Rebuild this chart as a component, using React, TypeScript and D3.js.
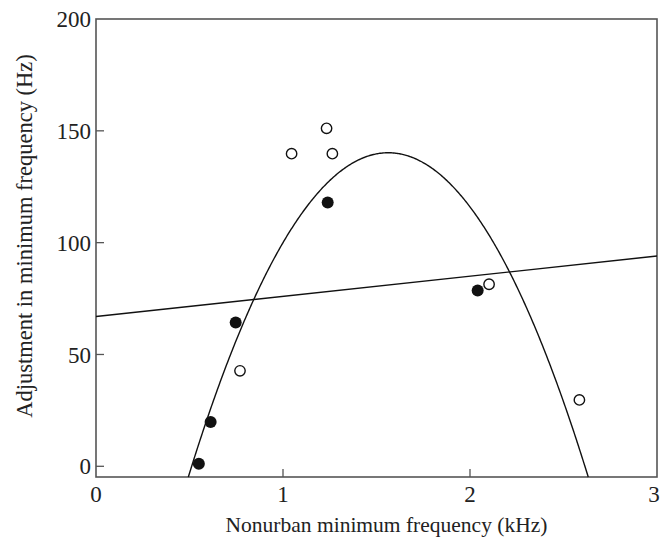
import React, { useEffect, useRef } from "react";
import * as d3 from "d3";

const filledX = [0.55, 0.613, 0.747, 1.239, 2.041];
const filledY = [1.1, 19.8, 64.3, 117.9, 78.6];
const openX = [0.77, 1.046, 1.233, 1.264, 2.102, 2.585];
const openY = [42.7, 139.8, 151.1, 139.8, 81.4, 29.7];

// fitted lines: linear y = a + b x, quadratic y = k - c (x - h)^2
const linearFit = [67.0, 9.0];
const quadFit = [1.563, 140.2, 126.8];

const xTicks = [0, 1, 2, 3];
const yTicks = [0, 50, 100, 150, 200];

const W = 661;
const H = 539;

const App = () => {
  const ref = useRef<SVGSVGElement>(null);

  useEffect(() => {
    const svg = d3.select(ref.current);
    svg.selectAll("*").remove();

    const left = 96,
      right = 657,
      top = 19,
      bottom = 477;

    const x = d3.scaleLinear().domain([0, 3]).range([left, right]);
    const y = d3.scaleLinear().domain([0, 200]).range([466.3, top]);
    const yMin = y.invert(bottom);

    const font = "'Liberation Serif', 'Times New Roman', serif";

    // frame
    svg
      .append("rect")
      .attr("x", left)
      .attr("y", top)
      .attr("width", right - left)
      .attr("height", bottom - top)
      .attr("fill", "none")
      .attr("stroke", "#555")
      .attr("stroke-width", 1.6);

    // x ticks (inward)
    svg
      .append("g")
      .selectAll("line")
      .data(xTicks.slice(1, -1))
      .join("line")
      .attr("x1", (d) => x(d))
      .attr("x2", (d) => x(d))
      .attr("y1", bottom)
      .attr("y2", bottom - 8)
      .attr("stroke", "#555")
      .attr("stroke-width", 1.3);

    // last label would run past the right edge, pull it in a touch
    svg
      .append("g")
      .selectAll("text")
      .data(xTicks)
      .join("text")
      .attr("x", (d) => x(d))
      .attr("y", bottom + 25)
      .attr("dx", (d, i) => (i === xTicks.length - 1 ? -3 : 0))
      .attr("text-anchor", "middle")
      .attr("font-family", font)
      .attr("font-size", 23)
      .attr("fill", "#222")
      .text((d) => d);

    // y ticks (inward)
    svg
      .append("g")
      .selectAll("line")
      .data(yTicks.slice(0, -1))
      .join("line")
      .attr("x1", left)
      .attr("x2", left + 8)
      .attr("y1", (d) => y(d))
      .attr("y2", (d) => y(d))
      .attr("stroke", "#555")
      .attr("stroke-width", 1.3);

    svg
      .append("g")
      .selectAll("text")
      .data(yTicks)
      .join("text")
      .attr("x", left - 5)
      .attr("y", (d) => y(d))
      .attr("dy", "0.35em")
      .attr("text-anchor", "end")
      .attr("font-family", font)
      .attr("font-size", 23)
      .attr("fill", "#222")
      .text((d) => d);

    // axis titles
    svg
      .append("text")
      .attr("x", (left + right) / 2 + 10)
      .attr("y", 532)
      .attr("text-anchor", "middle")
      .attr("font-family", font)
      .attr("font-size", 21.5)
      .attr("fill", "#222")
      .text("Nonurban minimum frequency (kHz)");

    svg
      .append("text")
      .attr("transform", `translate(32,236) rotate(-90)`)
      .attr("text-anchor", "middle")
      .attr("font-family", font)
      .attr("font-size", 22.5)
      .attr("fill", "#222")
      .text("Adjustment in minimum frequency (Hz)");

    const plot = svg.append("g");
    const lineGen = d3
      .line<[number, number]>()
      .x((d) => x(d[0]))
      .y((d) => y(d[1]));

    // linear fit
    plot
      .append("path")
      .attr(
        "d",
        lineGen([
          [0, linearFit[0]],
          [3, linearFit[0] + linearFit[1] * 3],
        ])
      )
      .attr("fill", "none")
      .attr("stroke", "#111")
      .attr("stroke-width", 1.4);

    // quadratic fit, drawn between its crossings of the bottom axis
    const [h, k, c] = quadFit;
    const half = Math.sqrt((k - yMin) / c);
    const xs = d3.range(h - half, h + half, 0.005).concat([h + half]);
    plot
      .append("path")
      .attr(
        "d",
        lineGen(xs.map((v) => [v, k - c * (v - h) ** 2] as [number, number]))
      )
      .attr("fill", "none")
      .attr("stroke", "#111")
      .attr("stroke-width", 1.4);

    // points
    plot
      .append("g")
      .selectAll("circle")
      .data(d3.zip(openX, openY))
      .join("circle")
      .attr("cx", (d) => x(d[0]))
      .attr("cy", (d) => y(d[1]))
      .attr("r", 5.2)
      .attr("fill", "#fff")
      .attr("stroke", "#111")
      .attr("stroke-width", 1.4);

    plot
      .append("g")
      .selectAll("circle")
      .data(d3.zip(filledX, filledY))
      .join("circle")
      .attr("cx", (d) => x(d[0]))
      .attr("cy", (d) => y(d[1]))
      .attr("r", 6)
      .attr("fill", "#111");
  }, []);

  return (
    <svg
      ref={ref}
      width={W}
      height={H}
      viewBox={`0 0 ${W} ${H}`}
      style={{ position: "absolute", left: 0, top: 0, background: "#fff" }}
    />
  );
};

export default App;
